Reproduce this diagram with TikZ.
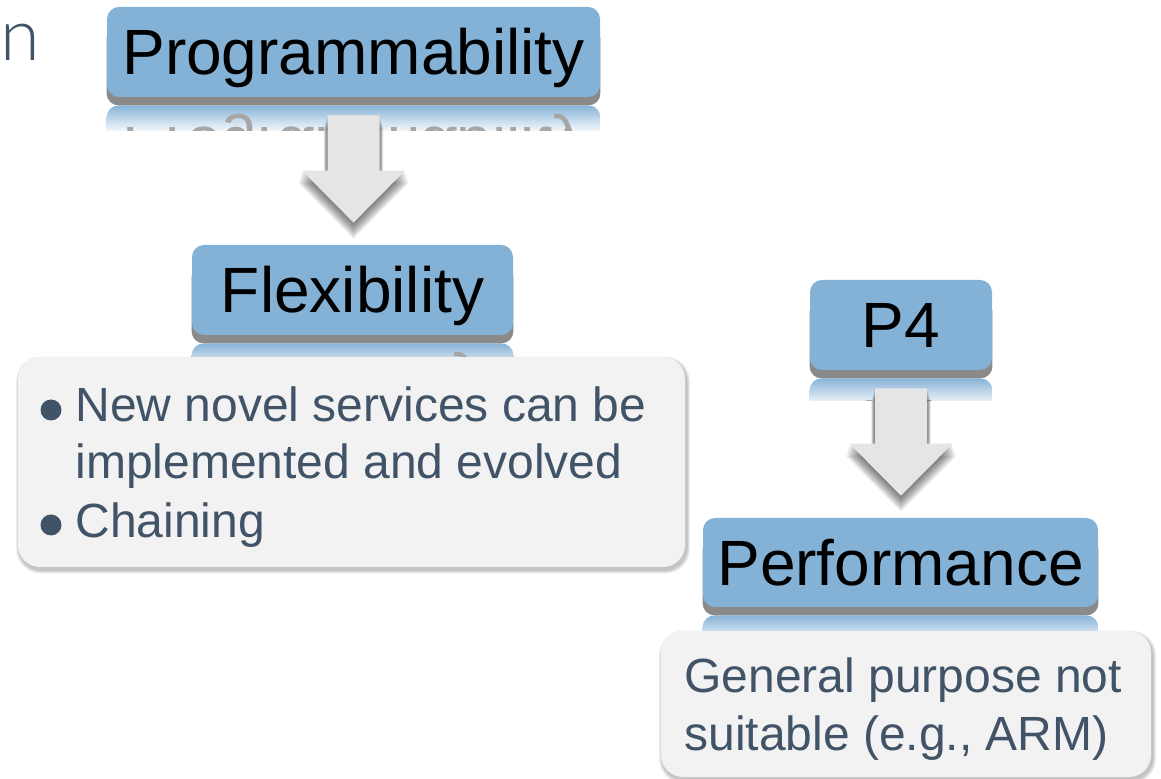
\documentclass[tikz,border=0pt]{standalone}
\usepackage{fontspec}
\setmainfont{Liberation Sans}
\IfFontExistsTF{Lato Light}{\newfontfamily\titlefont{Lato Light}}{\newfontfamily\titlefont{Liberation Sans}}
\usetikzlibrary{calc}
\definecolor{boxblue}{RGB}{132,177,214}
\definecolor{slate}{RGB}{65,83,102}
\definecolor{notefill}{RGB}{242,242,242}
\definecolor{arrowfill}{RGB}{229,229,229}
\definecolor{shadowgray}{RGB}{138,138,138}
\pgfdeclarelayer{bg}
\pgfsetlayers{bg,main}
\tikzset{
  bluebox/.style={fill=boxblue, rounded corners=6pt, inner sep=0pt, text height=23pt, text depth=0pt,
    font=\fontsize{32}{36}\selectfont, text=black},
  notebox/.style={fill=notefill, rounded corners=11pt, inner sep=0pt},
  notetext/.style={anchor=base west, inner sep=0pt, text=slate, font=\fontsize{24}{28}\selectfont},
  bulletdot/.style={circle, fill=slate, inner sep=0pt, minimum size=10.5pt},
  refltext/.style={yscale=-1, anchor=base, inner sep=0pt, text=black!35, font=\fontsize{32}{36}\selectfont},
  boxshadow/.style={fill=shadowgray, rounded corners=6pt},
  arrowshadow/.style={fill=black, opacity=0.1},
  bigarrowstyle/.style={fill=arrowfill},
  noteshadow/.style={fill=black, opacity=0.05, rounded corners=12pt}
}
% reflection under a blue box: #1 node, #2 visible depth (px), #3 text
\newcommand\myreflection[3]{%
  \begin{scope}
    \clip[rounded corners=6pt] ($(#1.south west)+(0,8)$) rectangle ($(#1.south east)+(0,98)$);
    \clip ($(#1.south west)+(0,8)$) rectangle ($(#1.south east)+(0,#2)$);
    \shade[top color=boxblue!97!white, bottom color=white] ($(#1.south west)+(0,8)$) rectangle ($(#1.south east)+(0,36)$);
    \node[refltext] at ($(#1.south)+(0,30)$) {#3};
  \end{scope}}
% shadow under a blue box
\newcommand\myboxshadow[1]{%
  \fill[boxshadow] ($(#1.north west)+(0,20)$) rectangle ($(#1.south east)+(0,8)$);}
% block arrow from box #1 to box #2; #3 = downward offset, #4 = grow (canvas pt)
\newcommand\myarrowpath[4]{let \p1=($(#1.south)+(0,18)$), \p2=($(#2.north)+(0,-22)$) in
  (\x1-13pt-#4,\y1-#3) -- (\x1+13pt+#4,\y1-#3) -- (\x1+13pt+#4,\y2+26pt-#3) -- (\x1+25.75pt+#4,\y2+26pt-#3) --
  (\x1,\y2-#3-#4) -- (\x1-25.75pt-#4,\y2+26pt-#3) -- (\x1-13pt-#4,\y2+26pt-#3) -- cycle}
\newcommand\mynoteshadow[1]{%
  \foreach \k in {1,...,5}{%
    \fill[noteshadow] ($(#1.north west)+(-\k*0.6+1.5,-\k*0.6+3)$) rectangle ($(#1.south east)+(\k*0.6+1.5,\k*0.6+3)$);}}
\begin{document}
\begin{tikzpicture}[x=0.5pt,y=-0.5pt]
\useasboundingbox (0,0) rectangle (1161,779);

% title fragment
\node[anchor=base east, inner sep=0pt, text=slate, font=\titlefont\fontsize{36}{38}\selectfont] (title) at (41,61) {n};

% blue boxes
\node[bluebox, minimum width=246.5pt, minimum height=45pt] (prog) at (353.5,52) {Programmability};
\node[bluebox, minimum width=160.5pt, minimum height=45pt] (flex) at (352.5,290) {Flexibility};
\node[bluebox, minimum width=91pt, minimum height=45pt] (p4) at (901,325) {P4};
\node[bluebox, minimum width=197.5pt, minimum height=44.5pt] (perf) at (900.5,562.5) {Performance};

% note boxes
\node[notebox, minimum width=333.5pt, minimum height=105pt] (flexnote) at (351.5,462) {};
\node[notebox, minimum width=245pt, minimum height=73pt] (perfnote) at (906,704) {};

% note texts
\node[bulletdot] (d1) at (51,410) {};
\node[notetext] (l1) at (75,422) {New novel services can be};
\node[notetext] (l2) at (75,479) {implemented and evolved};
\node[bulletdot] (d2) at (51,525) {};
\node[notetext] (l3) at (75,538) {Chaining};
\node[notetext] (g1) at (684,692) {General purpose not};
\node[notetext] (g2) at (684,750) {suitable (e.g., ARM)};

% arrows (soft shadow, then arrow)
\foreach \k in {1,...,6}{\fill[arrowshadow] \myarrowpath{prog}{flex}{\k*1pt}{\k*0.3pt};}
\fill[bigarrowstyle] \myarrowpath{prog}{flex}{0pt}{0pt};
\foreach \k in {1,...,6}{\fill[arrowshadow] \myarrowpath{p4}{perf}{\k*1pt}{\k*0.3pt};}
\fill[bigarrowstyle] \myarrowpath{p4}{perf}{0pt}{0pt};

\begin{pgfonlayer}{bg}
  \myboxshadow{prog}
  \myboxshadow{flex}
  \myboxshadow{p4}
  \myboxshadow{perf}
  \myreflection{prog}{33}{Programmability}
  \myreflection{flex}{40}{Flexibility}
  \myreflection{p4}{30}{P4}
  \myreflection{perf}{30}{Performance}
  \mynoteshadow{flexnote}
  \mynoteshadow{perfnote}
\end{pgfonlayer}
\end{tikzpicture}
\end{document}
